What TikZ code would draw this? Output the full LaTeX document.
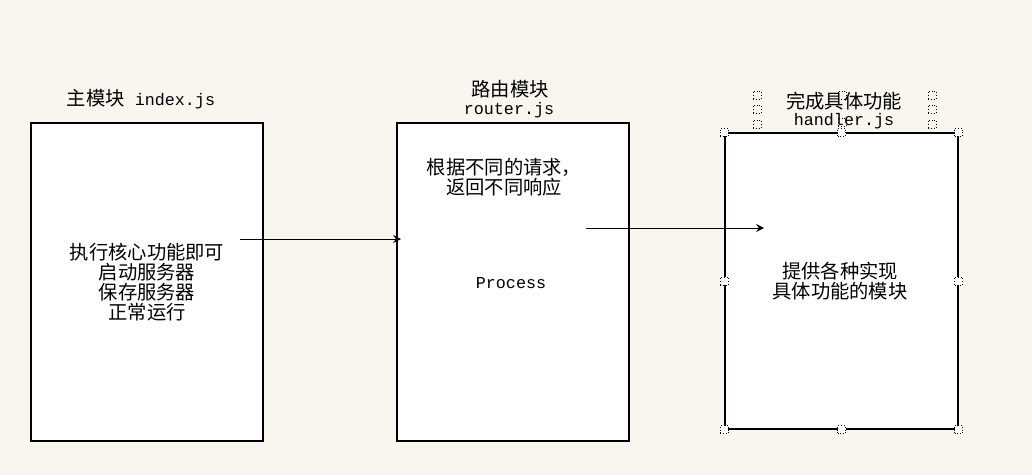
\documentclass[tikz,border=0pt]{standalone}
\usepackage{fontspec}
\setmainfont{Liberation Mono}
\newfontfamily\cjk{Noto Sans CJK SC}
\usetikzlibrary{arrows.meta}
\definecolor{bgcol}{RGB}{249,246,239}
\begin{document}
\begin{tikzpicture}[x=1pt,y=-1pt,
  modbox/.style={draw=black,line width=1.2pt,fill=white,inner sep=0pt,minimum width=232pt},
  lbl/.style={inner sep=0pt,align=center,font=\fontsize{16.7}{20}\selectfont},
  cjklbl/.style={inner sep=0pt,align=center,font=\cjk\fontsize{19.3}{20}\selectfont},
  conn/.style={line width=0.9pt,-{Stealth[length=8pt,width=8pt,inset=3pt]}},
  handle/.style={draw=black,dotted,line width=0.8pt,minimum size=8pt,inner sep=0pt,fill=white}
]
\fill[bgcol] (0,0) rectangle (1032,475);
\useasboundingbox (0,0) rectangle (1032,475);

% boxes
\node[modbox,minimum height=318pt] (main) at (147,282) {};
\node[modbox,minimum height=318pt] (router) at (513,282) {};
\node[modbox,minimum width=233pt,minimum height=296pt] (handler) at (841.5,281) {};

% titles
\node[lbl] (t1) at (141,99) {{\cjk\fontsize{19.3}{20}\selectfont 主模块} index.js};
\node[cjklbl] (t2a) at (510,89) {路由模块};
\node[lbl] (t2b) at (509,110) {router.js};
\node[cjklbl] (t3a) at (844,101) {完成具体功能};
\node[lbl] (t3b) at (844,121) {handler.js};

% box texts
\node[cjklbl] (m1) at (147,282) {执行核心功能即可\\启动服务器\\保存服务器\\正常运行};
\node[cjklbl] (r1) at (504,177) {根据不同的请求，\\返回不同响应};
\node[lbl] (r2) at (511,283) {Process};
\node[cjklbl] (h1) at (840,281) {提供各种实现\\具体功能的模块};

% connectors
\coordinate (a1s) at (240,239);
\coordinate (a1e) at (401,239);
\coordinate (a2s) at (586,228);
\coordinate (a2e) at (764,228);
\draw[conn] (a1s) -- (a1e);
\draw[conn] (a2s) -- (a2e);

% selection handles on handler box
\foreach \n/\p in {h1/north west,h2/north,h3/north east,h4/west,h5/east,h6/south west,h7/south,h8/south east}
  \node[handle] (\n) at (handler.\p) {};
% selection handles on title text
\foreach \n/\x/\y in {s1/757/95,s2/757/109,s3/757/124,s4/932/95,s5/932/109,s6/932/124,s7/842/95,s8/842/122}
  \node[handle,fill=none] (\n) at (\x,\y) {};
\end{tikzpicture}
\end{document}
